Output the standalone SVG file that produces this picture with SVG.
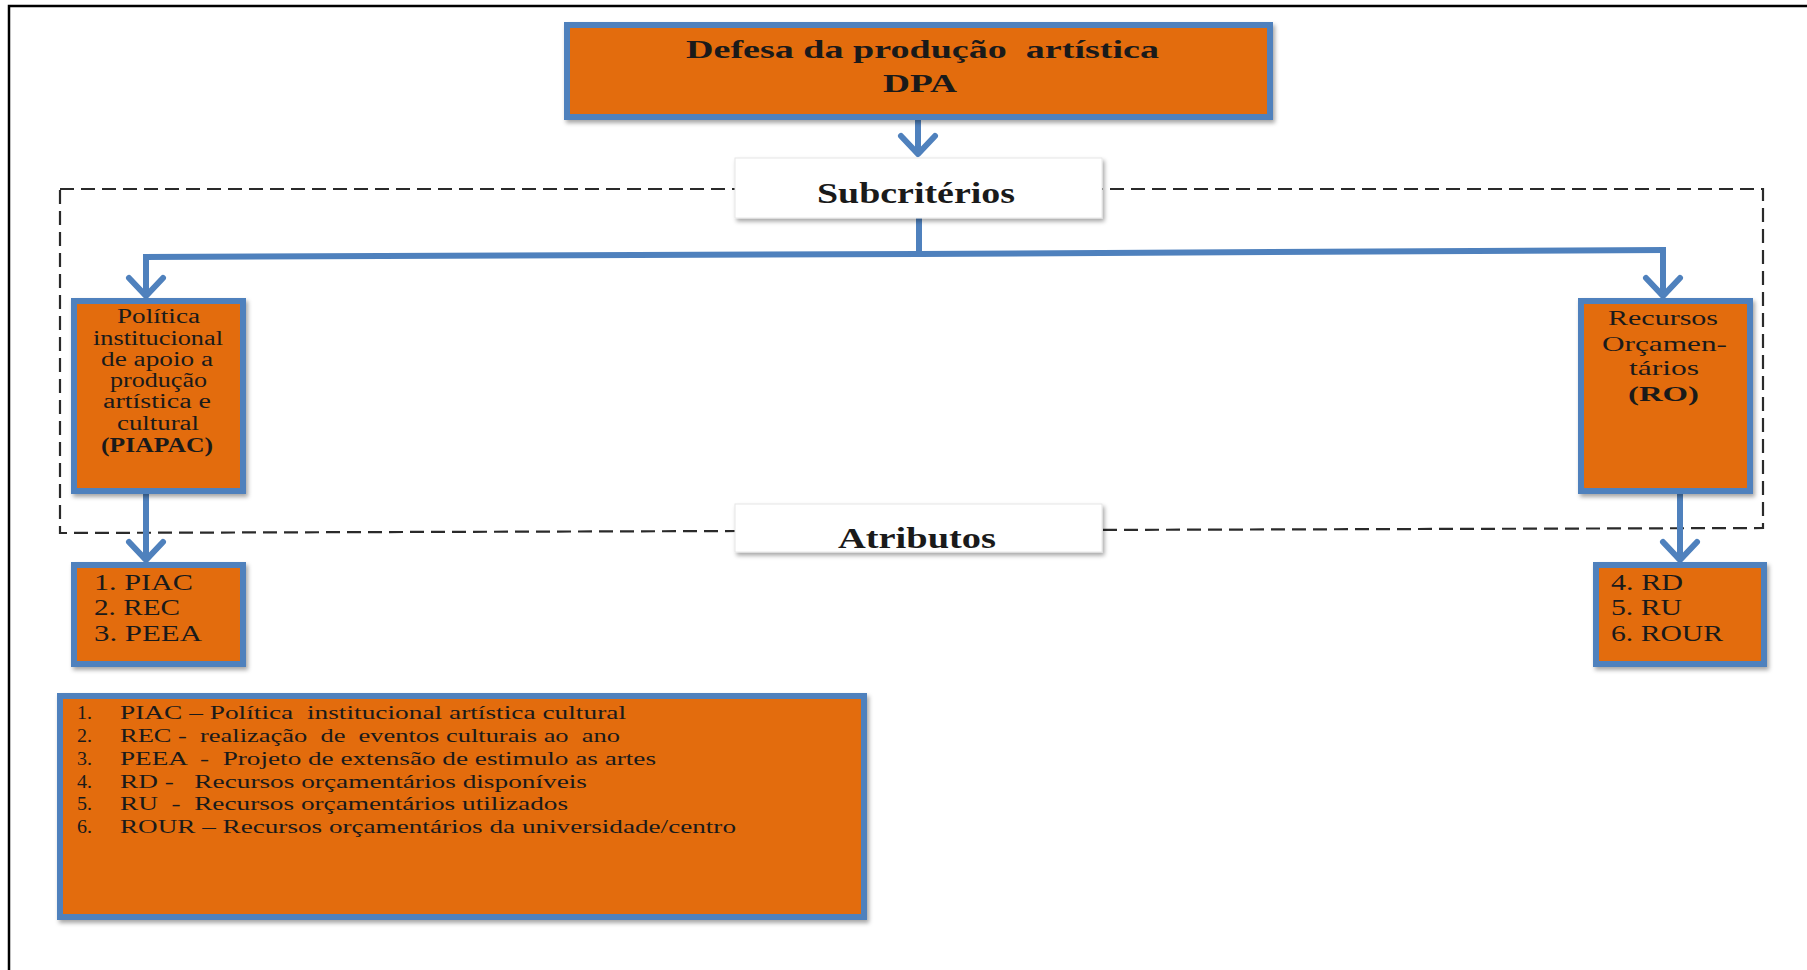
<svg xmlns="http://www.w3.org/2000/svg" width="1807" height="970" viewBox="0 0 1807 970">
  <style>
    .box { fill: #E36C0A; stroke: #4F81BD; stroke-width: 6; }
    .label { fill: #FFFFFF; stroke: #E6E6E6; stroke-width: 1; }
    .conn { fill: none; stroke: #4F81BD; stroke-width: 6; }
    .frame { fill: none; stroke: #000000; stroke-width: 2.5; }
    .dash { fill: none; stroke: #2A2A2A; stroke-width: 2.2; stroke-dasharray: 14 7; }
    .t { font-family: "Liberation Serif", "Times New Roman", serif; fill: #1A1A1A; }
    .b { font-weight: bold; }
  </style>
  <defs>
    <filter id="shadow" x="-10%" y="-10%" width="120%" height="130%">
      <feDropShadow dx="2" dy="3" stdDeviation="2" flood-color="#000000" flood-opacity="0.35"/>
    </filter>
    <marker id="chev" markerUnits="userSpaceOnUse" viewBox="-30 -30 60 60" markerWidth="60" markerHeight="60" refX="0" refY="0" orient="auto" overflow="visible">
      <path d="M-19,-17 L-1,0 L-19,17" fill="none" stroke="#4F81BD" stroke-width="6" stroke-linecap="round" stroke-linejoin="round"/>
    </marker>
  </defs>

  <rect width="1807" height="970" fill="#FFFFFF"/>

  <!-- page frame -->
  <path class="frame" d="M9,970 L9,6 L1807,6"/>

  <!-- dashed grouping of the sub-criteria -->
  <path class="dash" d="M60,189 L1763,189 L1763,528 L60,533 Z"/>

  <!-- connectors -->
  <g id="connectors">
    <path class="conn" d="M918,120 L918,155" marker-end="url(#chev)"/>
    <path class="conn" d="M919,218 L919,254"/>
    <path class="conn" d="M143,257 L919,254 L1666,250"/>
    <path class="conn" d="M146,257 L146,297" marker-end="url(#chev)"/>
    <path class="conn" d="M1663,250 L1663,297" marker-end="url(#chev)"/>
    <path class="conn" d="M146,494 L146,561" marker-end="url(#chev)"/>
    <path class="conn" d="M1680,494 L1680,561" marker-end="url(#chev)"/>
  </g>

  <g id="dpa">
    <rect class="box" x="567" y="25" width="703" height="92" filter="url(#shadow)"/>
    <text class="t b" x="686" y="58" font-size="25" textLength="473" lengthAdjust="spacingAndGlyphs" xml:space="preserve">Defesa da produção  artística</text>
    <text class="t b" x="883" y="92" font-size="26" textLength="74" lengthAdjust="spacingAndGlyphs">DPA</text>
  </g>

  <g id="subcriterios">
    <rect class="label" x="735" y="158" width="367" height="60" filter="url(#shadow)"/>
    <text class="t b" x="817" y="203" font-size="29" textLength="198" lengthAdjust="spacingAndGlyphs">Subcritérios</text>
  </g>

  <g id="piapac">
    <rect class="box" x="74" y="301" width="169" height="190" filter="url(#shadow)"/>
    <text class="t" x="117" y="323" font-size="20" textLength="83" lengthAdjust="spacingAndGlyphs">Política</text>
    <text class="t" x="93" y="345" font-size="20" textLength="130" lengthAdjust="spacingAndGlyphs">institucional</text>
    <text class="t" x="101" y="366" font-size="20" textLength="112" lengthAdjust="spacingAndGlyphs">de apoio a</text>
    <text class="t" x="110" y="387" font-size="20" textLength="97" lengthAdjust="spacingAndGlyphs">produção</text>
    <text class="t" x="103" y="408" font-size="20" textLength="108" lengthAdjust="spacingAndGlyphs">artística e</text>
    <text class="t" x="117" y="430" font-size="20" textLength="82" lengthAdjust="spacingAndGlyphs">cultural</text>
    <text class="t b" x="101" y="452" font-size="20" textLength="112" lengthAdjust="spacingAndGlyphs">(PIAPAC)</text>
  </g>

  <g id="ro">
    <rect class="box" x="1581" y="301" width="169" height="190" filter="url(#shadow)"/>
    <text class="t" x="1608" y="325" font-size="22" textLength="110" lengthAdjust="spacingAndGlyphs">Recursos</text>
    <text class="t" x="1602" y="351" font-size="22" textLength="125" lengthAdjust="spacingAndGlyphs">Orçamen-</text>
    <text class="t" x="1629" y="375" font-size="22" textLength="70" lengthAdjust="spacingAndGlyphs">tários</text>
    <text class="t b" x="1628" y="401" font-size="22" textLength="71" lengthAdjust="spacingAndGlyphs">(RO)</text>
  </g>

  <g id="atributos">
    <rect class="label" x="735" y="504" width="367" height="48" filter="url(#shadow)"/>
    <text class="t b" x="838" y="548" font-size="29" textLength="158" lengthAdjust="spacingAndGlyphs">Atributos</text>
  </g>

  <g id="attr-piapac">
    <rect class="box" x="74" y="565" width="169" height="99" filter="url(#shadow)"/>
    <text class="t" x="94" y="590" font-size="23" textLength="99" lengthAdjust="spacingAndGlyphs">1. PIAC</text>
    <text class="t" x="94" y="615" font-size="23" textLength="86" lengthAdjust="spacingAndGlyphs">2. REC</text>
    <text class="t" x="94" y="641" font-size="23" textLength="108" lengthAdjust="spacingAndGlyphs">3. PEEA</text>
  </g>

  <g id="attr-ro">
    <rect class="box" x="1596" y="565" width="168" height="99" filter="url(#shadow)"/>
    <text class="t" x="1611" y="590" font-size="23" textLength="72" lengthAdjust="spacingAndGlyphs">4. RD</text>
    <text class="t" x="1611" y="615" font-size="23" textLength="71" lengthAdjust="spacingAndGlyphs">5. RU</text>
    <text class="t" x="1611" y="641" font-size="23" textLength="112" lengthAdjust="spacingAndGlyphs">6. ROUR</text>
  </g>

  <g id="legenda">
    <rect class="box" x="60" y="696" width="804" height="221" filter="url(#shadow)"/>
    <text class="t" x="77" y="719" font-size="19" textLength="15" lengthAdjust="spacingAndGlyphs">1.</text>
    <text class="t" x="120" y="719" font-size="19" textLength="506" lengthAdjust="spacingAndGlyphs" xml:space="preserve">PIAC – Política  institucional artística cultural</text>
    <text class="t" x="77" y="742" font-size="19" textLength="15" lengthAdjust="spacingAndGlyphs">2.</text>
    <text class="t" x="120" y="742" font-size="19" textLength="500" lengthAdjust="spacingAndGlyphs" xml:space="preserve">REC -  realização  de  eventos culturais ao  ano</text>
    <text class="t" x="77" y="765" font-size="19" textLength="15" lengthAdjust="spacingAndGlyphs">3.</text>
    <text class="t" x="120" y="765" font-size="19" textLength="536" lengthAdjust="spacingAndGlyphs" xml:space="preserve">PEEA  -  Projeto de extensão de estimulo as artes</text>
    <text class="t" x="77" y="788" font-size="19" textLength="15" lengthAdjust="spacingAndGlyphs">4.</text>
    <text class="t" x="120" y="788" font-size="19" textLength="467" lengthAdjust="spacingAndGlyphs" xml:space="preserve">RD -   Recursos orçamentários disponíveis</text>
    <text class="t" x="77" y="810" font-size="19" textLength="15" lengthAdjust="spacingAndGlyphs">5.</text>
    <text class="t" x="120" y="810" font-size="19" textLength="448" lengthAdjust="spacingAndGlyphs" xml:space="preserve">RU  -  Recursos orçamentários utilizados</text>
    <text class="t" x="77" y="833" font-size="19" textLength="15" lengthAdjust="spacingAndGlyphs">6.</text>
    <text class="t" x="120" y="833" font-size="19" textLength="616" lengthAdjust="spacingAndGlyphs">ROUR – Recursos orçamentários da universidade/centro</text>
  </g>
</svg>
